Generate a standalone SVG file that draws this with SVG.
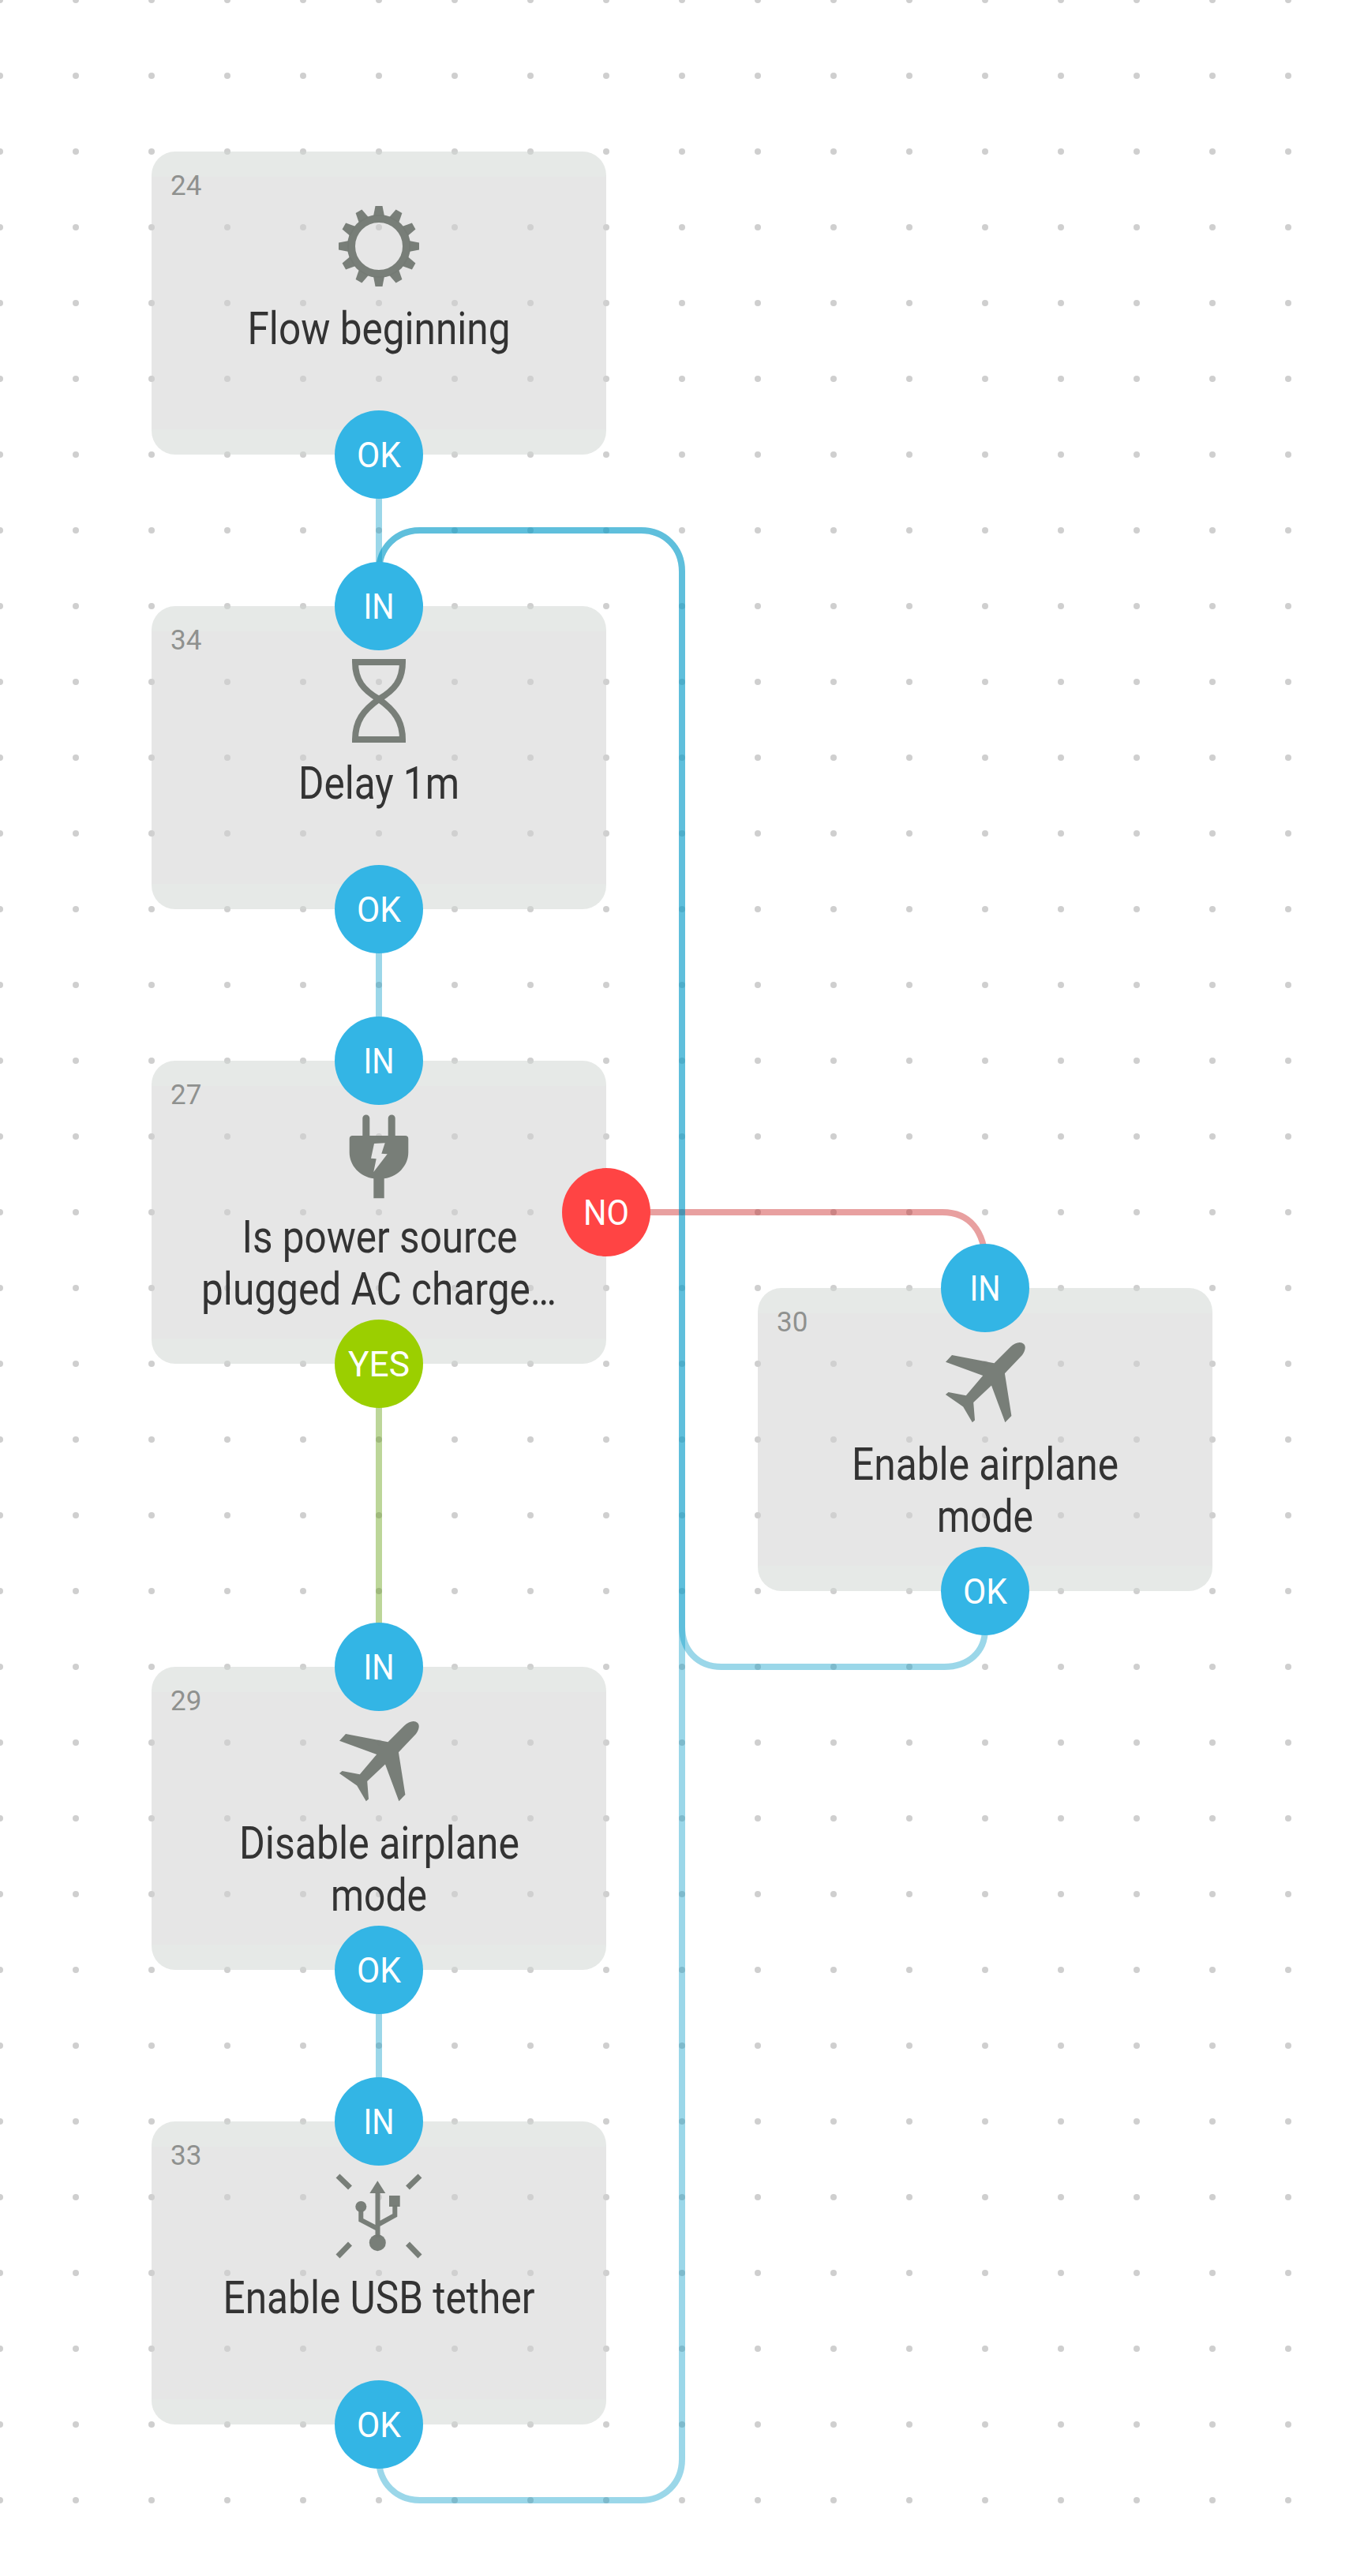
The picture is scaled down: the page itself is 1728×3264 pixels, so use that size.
<svg xmlns="http://www.w3.org/2000/svg" xmlns:xlink="http://www.w3.org/1999/xlink" width="1728" height="3264" viewBox="0 0 1728 3264">
<style>
.label{font-family:"Roboto","Liberation Sans",sans-serif;font-size:58px;fill:#333333;text-anchor:middle}
.num{font-family:"Roboto","Liberation Sans",sans-serif;font-size:35px;fill:#8f918f}
.port{font-family:"Roboto","Liberation Sans",sans-serif;font-size:44px;fill:#ffffff;text-anchor:middle}
.conn{fill:none;stroke-width:8;stroke-opacity:.4}
.blue{stroke:#059bc8}
.red{stroke:#c51111}
.green{stroke:#579800}
.pb{fill:#33b5e5}
.pr{fill:#ff4444}
.pg{fill:#9bcf00}
.icon{fill:#747a74;fill-opacity:.96}
.iline{fill:none;stroke:#747a74;stroke-opacity:.96}
</style>
<defs>
<pattern id="dots" patternUnits="userSpaceOnUse" x="-48" y="-48" width="96" height="96"><circle cx="48" cy="48" r="4" fill="#cfcfcf"/></pattern>
<g id="card">
<path d="M0 32V30A30 30 0 0 1 30 0H546A30 30 0 0 1 576 30V32Z" fill="#d1d6d3" fill-opacity=".54"/>
<rect x="0" y="32" width="576" height="320" fill="#d1d1d1" fill-opacity=".54"/>
<path d="M0 352H576V354A30 30 0 0 1 546 384H30A30 30 0 0 1 0 354Z" fill="#d1d6d3" fill-opacity=".54"/>
</g>
<polygon id="tooth" points="-7,-38 7,-38 4.5,-51 -4.5,-51" class="icon"/>
<path id="plane" class="icon" d="M11.5 -24.7L32 -45.3C38 -51 45 -53 49 -49C52 -46 51 -41 47 -35L24.9 -11.7L33.4 41.9L25.4 50.3L8 3.6L-14.8 25L-13 47.6L-16.2 50.3L-27.8 30.4L-50.1 15L-46.5 12L-24.2 16.2L-2.8 -9L-50 -26.2L-42 -35Z"/>
</defs>
<rect id="grid" x="0" y="0" width="1680" height="3216" fill="url(#dots)"/>
<g id="connectors">
<path class="conn blue" d="M480 576V768"/>
<path class="conn blue" d="M480 1152V1344"/>
<path class="conn green" d="M480 1728V2112"/>
<path class="conn blue" d="M480 2496V2688"/>
<path class="conn red" d="M768 1536H1194C1228 1536 1248 1560 1248 1600V1632"/>
<path class="conn blue" d="M1248 2016V2064C1248 2094 1226 2112 1196 2112H914C884 2112 864 2091 864 2061V724C864 694 842 672 812 672H532C502 672 480 694 480 724V768"/>
<path class="conn blue" d="M480 3072V3116C480 3146 502 3168 532 3168H812C842 3168 864 3146 864 3116V724C864 694 842 672 812 672H532C502 672 480 694 480 724V768"/>
</g>
<g id="node24">
<use xlink:href="#card" href="#card" x="192" y="192"/>
<text class="num" x="216" y="247">24</text>
<g transform="translate(480 312)">
<circle r="35" class="iline" stroke-width="10"/>
<use href="#tooth"/><use href="#tooth" transform="rotate(30)"/><use href="#tooth" transform="rotate(60)"/><use href="#tooth" transform="rotate(90)"/><use href="#tooth" transform="rotate(120)"/><use href="#tooth" transform="rotate(150)"/><use href="#tooth" transform="rotate(180)"/><use href="#tooth" transform="rotate(210)"/><use href="#tooth" transform="rotate(240)"/><use href="#tooth" transform="rotate(270)"/><use href="#tooth" transform="rotate(300)"/><use href="#tooth" transform="rotate(330)"/>
</g>
<text class="label" x="480" y="436" textLength="333" lengthAdjust="spacingAndGlyphs">Flow beginning</text>
<circle class="pb" cx="480" cy="576" r="56"/>
<text class="port" x="480" y="591.5" textLength="56" lengthAdjust="spacingAndGlyphs">OK</text>
</g>
<g id="node34">
<use href="#card" x="192" y="768"/>
<text class="num" x="216" y="823">34</text>
<path class="iline" stroke-width="8" d="M450 839H510C510 862 500 874 480 886C500 900 510 914 510 937H450C450 914 460 900 480 886C460 874 450 862 450 839Z"/>
<text class="label" x="480" y="1012" textLength="204" lengthAdjust="spacingAndGlyphs">Delay 1m</text>
<circle class="pb" cx="480" cy="768" r="56"/>
<text class="port" x="480" y="783.5" textLength="39" lengthAdjust="spacingAndGlyphs">IN</text>
<circle class="pb" cx="480" cy="1152" r="56"/>
<text class="port" x="480" y="1167.5" textLength="56" lengthAdjust="spacingAndGlyphs">OK</text>
</g>
<g id="node27">
<use href="#card" x="192" y="1344"/>
<text class="num" x="216" y="1399">27</text>
<path class="icon" fill-rule="evenodd" d="M459.3 1439V1417A4.5 4.5 0 0 1 468.3 1417V1439H491.7V1417A4.5 4.5 0 0 1 500.7 1417V1439H513.3Q517.3 1439 517.3 1443V1460C517.3 1477 504 1491 486.7 1493.3V1518.3H473.3V1493.3C456 1491 442.7 1477 442.7 1460V1443Q442.7 1439 446.7 1439ZM474 1449L470 1467.7L476.7 1468.3L473.3 1485L490.7 1462.3L483.3 1461.7L487.7 1448.3Z"/>
<text class="label" x="481" y="1587" textLength="349" lengthAdjust="spacingAndGlyphs">Is power source</text>
<text class="label" x="480" y="1653" textLength="450" lengthAdjust="spacingAndGlyphs">plugged AC charge…</text>
<circle class="pb" cx="480" cy="1344" r="56"/>
<text class="port" x="480" y="1359.5" textLength="39" lengthAdjust="spacingAndGlyphs">IN</text>
<circle class="pr" cx="768" cy="1536" r="56"/>
<text class="port" x="768" y="1551.5" textLength="58" lengthAdjust="spacingAndGlyphs">NO</text>
<circle class="pg" cx="480" cy="1728" r="56"/>
<text class="port" x="480" y="1743.5" textLength="78" lengthAdjust="spacingAndGlyphs">YES</text>
</g>
<g id="node29">
<use href="#card" x="192" y="2112"/>
<text class="num" x="216" y="2167">29</text>
<use href="#plane" x="480" y="2232"/>
<text class="label" x="480.5" y="2355" textLength="355" lengthAdjust="spacingAndGlyphs">Disable airplane</text>
<text class="label" x="480" y="2421" textLength="122" lengthAdjust="spacingAndGlyphs">mode</text>
<circle class="pb" cx="480" cy="2112" r="56"/>
<text class="port" x="480" y="2127.5" textLength="39" lengthAdjust="spacingAndGlyphs">IN</text>
<circle class="pb" cx="480" cy="2496" r="56"/>
<text class="port" x="480" y="2511.5" textLength="56" lengthAdjust="spacingAndGlyphs">OK</text>
</g>
<g id="node33">
<use href="#card" x="192" y="2688"/>
<text class="num" x="216" y="2743">33</text>
<g class="iline" stroke-width="6">
<path stroke-width="7" d="M428 2757L443.5 2772M532 2757L516.5 2772M428 2859L443.5 2843M532 2859L516.5 2843"/>
<path d="M478.5 2778V2835M500.3 2794V2807L478.5 2819M457.3 2800V2813L478.5 2824"/>
</g>
<path class="icon" d="M478.3 2763.3L488.3 2779H468.3Z"/>
<rect class="icon" x="493" y="2782" width="13.7" height="14"/>
<circle class="icon" cx="457.3" cy="2796" r="7"/>
<circle class="icon" cx="478.3" cy="2841.7" r="10.5"/>
<text class="label" x="480" y="2931" textLength="395" lengthAdjust="spacingAndGlyphs">Enable USB tether</text>
<circle class="pb" cx="480" cy="2688" r="56"/>
<text class="port" x="480" y="2703.5" textLength="39" lengthAdjust="spacingAndGlyphs">IN</text>
<circle class="pb" cx="480" cy="3072" r="56"/>
<text class="port" x="480" y="3087.5" textLength="56" lengthAdjust="spacingAndGlyphs">OK</text>
</g>
<g id="node30">
<use href="#card" x="960" y="1632"/>
<text class="num" x="984" y="1687">30</text>
<use href="#plane" x="1248" y="1752"/>
<text class="label" x="1248" y="1875" textLength="338" lengthAdjust="spacingAndGlyphs">Enable airplane</text>
<text class="label" x="1248" y="1941" textLength="122" lengthAdjust="spacingAndGlyphs">mode</text>
<circle class="pb" cx="1248" cy="1632" r="56"/>
<text class="port" x="1248" y="1647.5" textLength="39" lengthAdjust="spacingAndGlyphs">IN</text>
<circle class="pb" cx="1248" cy="2016" r="56"/>
<text class="port" x="1248" y="2031.5" textLength="56" lengthAdjust="spacingAndGlyphs">OK</text>
</g>
</svg>
